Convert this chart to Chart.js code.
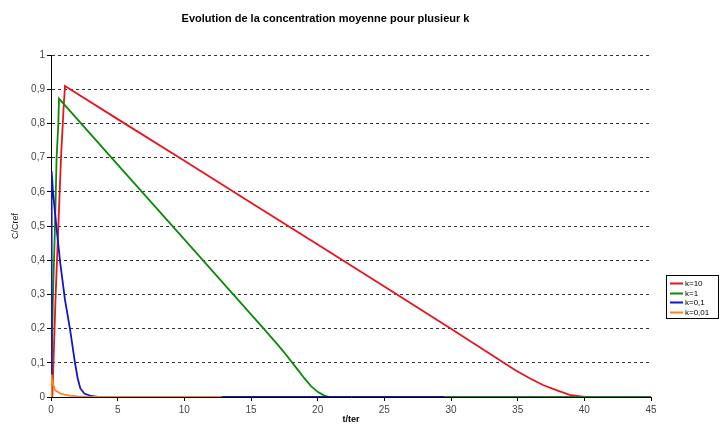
<!DOCTYPE html>
<html>
<head>
<meta charset="utf-8">
<script src="https://cdn.jsdelivr.net/npm/chart.js@4.4.0/dist/chart.umd.min.js"></script>
<style>
  html, body { margin: 0; padding: 0; background: #fff; }
  canvas { display: block; }
</style>
</head>
<body>
<canvas id="chart" width="720" height="435"></canvas>
<script>
// values (t/ter, C/Cref)
const labels = ['k=10', 'k=1', 'k=0,1', 'k=0,01']
const colors = ['#e8141c', '#0a8a0a', '#1414c8', '#ff8020']

const tK10 = [0, 0.1, 0.35, 0.55, 0.75, 0.95, 1.05, 5, 10, 15, 20, 25, 30, 34.8, 35.9, 36.9, 37.9, 38.9, 40]
const cK10 = [0, 0, 0.3, 0.5, 0.7, 0.85, 0.91, 0.813, 0.691, 0.568, 0.446, 0.323, 0.2, 0.079, 0.055, 0.035, 0.02, 0.006, 0]

const tK1 = [0, 0.05, 0.15, 0.3, 0.42, 0.55, 0.6, 5, 10, 15, 16, 17, 17.5, 18, 18.5, 19, 19.5, 20, 20.5, 20.9, 45]
const cK1 = [0, 0, 0.3, 0.5, 0.7, 0.8, 0.873, 0.68, 0.461, 0.242, 0.198, 0.153, 0.13, 0.105, 0.08, 0.055, 0.032, 0.015, 0.004, 0, 0]

const tK01 = [0.03, 0.05, 0.15, 0.4, 0.7, 1.05, 1.42, 1.8, 2.0, 2.2, 2.5, 3, 3.5, 29.5]
const cK01 = [0.07, 0.66, 0.6, 0.5, 0.39, 0.284, 0.2, 0.1, 0.055, 0.025, 0.01, 0.003, 0, 0]

const tK001 = [0, 0.03, 0.1, 0.3, 0.67, 1.0, 1.4, 2, 3, 12.8]
const cK001 = [0, 0.064, 0.045, 0.02, 0.011, 0.007, 0.004, 0.002, 0, 0]

const xTicks = { min: 0, max: 45, step: 5 }
const yTicks = { min: 0, max: 1, step: 0.1 }

const series = [[tK10, cK10], [tK1, cK1], [tK01, cK01], [tK001, cK001]]

const toPoints = (t, c) => t.map((x, i) => ({ x: x, y: c[i] }))

const font = 'Liberation Sans, Arial, sans-serif'

// legend drawn as a small framed box on the right, like the excel one
const boxLegend = {
  id: 'boxLegend',
  afterDraw(chart) {
    const ctx = chart.ctx
    const x = 666, y = 275, w = 52, h = 43
    ctx.save()
    ctx.fillStyle = '#fff'
    ctx.fillRect(x, y, w, h)
    ctx.strokeStyle = '#000'
    ctx.lineWidth = 1
    ctx.strokeRect(x + 0.5, y + 0.5, w, h)
    ctx.font = '8px ' + font
    ctx.textBaseline = 'middle'
    chart.data.datasets.forEach((ds, i) => {
      const ly = Math.round(y + 8 + i * 9.7) + 0.5
      ctx.strokeStyle = ds.borderColor
      ctx.lineWidth = 2
      ctx.beginPath()
      ctx.moveTo(x + 4, ly)
      ctx.lineTo(x + 17, ly)
      ctx.stroke()
      ctx.fillStyle = '#000'
      ctx.fillText(ds.label, x + 19, ly)
    })
    ctx.restore()
  }
}

const ctx = document.getElementById('chart').getContext('2d')

new Chart(ctx, {
  type: 'scatter',
  data: {
    datasets: series.map((s, i) => ({
      label: labels[i],
      data: toPoints(s[0], s[1]),
      showLine: true,
      borderColor: colors[i],
      backgroundColor: colors[i],
      borderWidth: 1.8,
      pointRadius: 0,
      tension: 0,
      order: 4 - i
    }))
  },
  options: {
    responsive: false,
    animation: false,
    layout: { padding: { left: 0, right: 69, top: 0, bottom: 0 } },
    plugins: {
      legend: { display: false },
      tooltip: { enabled: false },
      title: {
        display: true,
        text: 'Evolution de la concentration moyenne pour plusieur k',
        color: '#000',
        font: { family: font, size: 11, weight: 'bold' },
        padding: { top: 12, bottom: 30 }
      }
    },
    scales: {
      x: {
        type: 'linear',
        min: xTicks.min,
        max: xTicks.max,
        ticks: { stepSize: xTicks.step, color: '#444', font: { family: font, size: 10 }, padding: 3, maxRotation: 0 },
        grid: { drawOnChartArea: false, drawTicks: true, tickLength: 4, tickColor: '#000' },
        border: { color: '#000', width: 1 },
        title: { display: true, text: 't/ter', color: '#000', font: { family: font, size: 9, weight: 'bold' }, padding: { top: 0, bottom: 10 } },
        afterFit: scale => { scale.height = 38 }
      },
      y: {
        min: yTicks.min,
        max: yTicks.max,
        ticks: {
          stepSize: yTicks.step,
          color: '#444',
          font: { family: font, size: 10 },
          padding: 2,
          callback: v => Number(v.toFixed(1)).toString().replace('.', ',')
        },
        grid: { color: '#333', lineWidth: 1, tickLength: 4, tickColor: '#000' },
        border: { color: '#000', width: 1, dash: [3, 3] },
        title: { display: true, text: 'C/Cref', color: '#222', font: { family: font, size: 9 }, padding: { top: 10, bottom: 0 } },
        afterFit: scale => { scale.width = 51 }
      }
    }
  },
  plugins: [boxLegend]
})
</script>
</body>
</html>
